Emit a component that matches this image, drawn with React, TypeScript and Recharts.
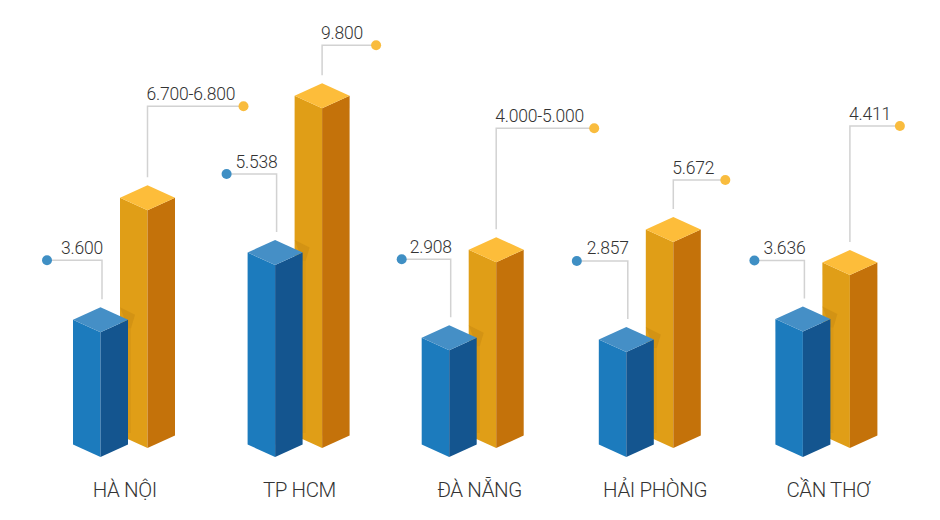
import { BarChart, Bar, XAxis, YAxis } from 'recharts'

const cities = ['HÀ NỘI', 'TP HCM', 'ĐÀ NẴNG', 'HẢI PHÒNG', 'CẦN THƠ']

// bar heights as drawn in the picture, the printed labels are kept apart
const blueValues = [3600, 5538, 3080, 3030, 3620]
const orangeValues = [6860, 9800, 5360, 5940, 4990]
const blueLabels = ['3.600', '5.538', '2.908', '2.857', '3.636']
const orangeLabels = ['6.700-6.800', '9.800', '4.000-5.000', '5.672', '4.411']

// groups are not quite evenly spaced in the original
const groupNudge = [0.5, -0.5, -2, -0.5, 0.5]
const cityNudge = [1, 0, 4.5, 4.5, 2]

// leader lines: how far above the bar the elbow sits, how far the line runs to the dot
const blueRise = [72, 91, 91, 91, 71]
const blueRun = [55, 50, 49, 51, 50]
const orangeRise = [104, 63, 134, 62, 149]
const orangeRun = [96, 54, 98, 52, 50]

const chartData = cities.map((city, i) => ({
    city,
    blue: blueValues[i],
    orange: orangeValues[i],
}))

const FONT = 'Roboto, sans-serif'
const SIDE_DROP = 12.5 // depth of the top diamond

const BLUE = { left: '#1c7bbd', right: '#14558f', top: '#458fc6', dot: '#3f8fc4' }
const ORANGE = { left: '#e09e17', right: '#c4720a', top: '#fdbd3a', dot: '#f9bc3e' }

const Leader = ({ x, y, rise, run, label, color, side }: any) => {
    const elbow = y - rise
    const gap = SIDE_DROP * 2 + 8
    const dotX = side === 'left' ? x - run : x + run
    return (
        <g>
            <path
                d={`M${x} ${y - gap} L${x} ${elbow} L${dotX} ${elbow}`}
                fill="none"
                stroke="#d2d2d2"
                strokeWidth={1.5}
            />
            <circle cx={dotX} cy={elbow} r={5} fill={color} />
            <text
                x={side === 'left' ? x + 1 : x - 1}
                y={elbow - 6.5}
                textAnchor={side === 'left' ? 'end' : 'start'}
                fontFamily={FONT}
                fontWeight={300}
                fontSize={17.5}
                letterSpacing={-0.2}
                fill="#333"
            >
                {label}
            </text>
        </g>
    )
}

const Column3D = ({ cx, y, half, bottom, colors }: any) => {
    const l = cx - half
    const r = cx + half
    const d = SIDE_DROP
    return (
        <g>
            <polygon points={`${l},${y - d} ${cx},${y} ${cx},${bottom} ${l},${bottom - d}`} fill={colors.left} />
            <polygon points={`${cx},${y} ${r},${y - d} ${r},${bottom - d} ${cx},${bottom}`} fill={colors.right} />
            <polygon points={`${l},${y - d} ${cx},${y - d * 2} ${r},${y - d} ${cx},${y}`} fill={colors.top} />
        </g>
    )
}

const BlueBar = (props: any) => {
    const { x, y, width, height, index } = props
    const cx = x + width / 2 - 23.5 + groupNudge[index]
    const half = width / 2
    const edge = cx + half // right edge of the blue column
    return (
        <g>
            {/* shadow the blue column drops on the orange one, fades out below the top */}
            <polygon
                points={`${edge - 8},${y - SIDE_DROP * 2} ${edge + 7},${y - SIDE_DROP - 5} ${edge + 3},${y - 4} ${edge},${y - 4}`}
                fill="#c98a12"
                opacity={0.55}
            />
            <rect x={edge} y={y - 4} width={3} height={height - 20} fill="#c98a12" opacity={0.3} />
            <Column3D cx={cx} y={y} half={half} bottom={y + height} colors={BLUE} />
            <Leader
                x={cx + 1.5}
                y={y}
                rise={blueRise[index]}
                run={blueRun[index]}
                label={blueLabels[index]}
                color={BLUE.dot}
                side="left"
            />
        </g>
    )
}

const OrangeBar = (props: any) => {
    const { x, y, width, height, index } = props
    const lift = 9 // the orange row stands further back
    const cx = x + width / 2 + 23.5 + groupNudge[index]
    return (
        <g>
            <Column3D cx={cx} y={y - lift} half={width / 2} bottom={y + height - lift} colors={ORANGE} />
            <Leader
                x={cx}
                y={y - lift}
                rise={orangeRise[index]}
                run={orangeRun[index]}
                label={orangeLabels[index]}
                color={ORANGE.dot}
                side="right"
            />
        </g>
    )
}

const CityTick = ({ x, y, payload, index }: any) => (
    <text
        x={x + cityNudge[index]}
        y={y + 32}
        textAnchor="middle"
        fontFamily={FONT}
        fontWeight={300}
        fontSize={20.5}
        letterSpacing={-0.4}
        fill="#333"
    >
        {payload.value}
    </text>
)

const App = () => {
    return (
        <div style={{ position: 'absolute', left: 0, top: 0, width: 940, height: 520, background: '#fff' }}>
            <BarChart
                width={940}
                height={520}
                data={chartData}
                margin={{ top: 41, right: 26, bottom: 0, left: 36 }}
                barSize={55}
                barGap={-55}
            >
                <XAxis
                    dataKey="city"
                    height={63}
                    axisLine={false}
                    tickLine={false}
                    interval={0}
                    tick={<CityTick />}
                />
                <YAxis hide domain={[0, 12000]} />
                <Bar dataKey="orange" shape={<OrangeBar />} isAnimationActive={false} />
                <Bar dataKey="blue" shape={<BlueBar />} isAnimationActive={false} />
            </BarChart>
        </div>
    )
}

export default App
